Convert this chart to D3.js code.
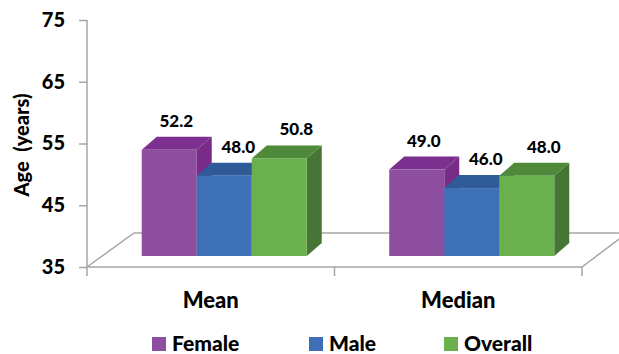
<!DOCTYPE html>
<html lang="en">
<head>
    <meta charset="UTF-8">
    <title>Age by sex</title>
    <script src="https://cdn.jsdelivr.net/npm/d3@7"></script>
    <style>
        body {
            margin: 0;
            background-color: white;
        }
        text {
            font-family: Lato, "Open Sans", sans-serif;
            font-weight: 900;
            fill: #000;
            white-space: pre;
        }
        .grid-line {
            fill: none;
            stroke: #a6a6a6;
            stroke-width: 1.5;
        }
    </style>
</head>
<body>
<script>
    const categories = ["Mean", "Median"];
    const seriesNames = ["Female", "Male", "Overall"];
    const female = [52.2, 49.0];
    const male = [48.0, 46.0];
    const overall = [50.8, 48.0];
    const yTicks = [35, 45, 55, 65, 75];

    const values = [female, male, overall];
    const frontColors = ["#8d4e9f", "#3e70b8", "#6ab14d"];
    const topColors = ["#7b3090", "#2f5c98", "#4e8a3a"];
    const sideColors = ["#782c88", "#2c5590", "#477535"];
    // label nudges to the right, per series (labels sit like in the original)
    const labelShift = [7, 14, 17];

    const width = 619, height = 354;
    const floorDx = 47, floorDy = -34;   // depth of the floor
    const frontDx = 13.5, frontDy = -11; // bar front plane inside the floor
    const barDx = 15, barDy = -13;       // depth of each bar

    const svg = d3.select("body")
        .append("svg")
        .attr("width", width)
        .attr("height", height);

    const y = d3.scaleLinear()
        .domain([35, 75])
        .range([267, 20]);

    const x = d3.scaleBand()
        .domain(categories)
        .range([87, 582]);

    const inner = d3.scaleBand()
        .domain(seriesNames)
        .range([0, 165]);

    // floor
    const x0 = x.range()[0], x1 = x.range()[1], y0 = y(35);
    svg.append("path")
        .attr("class", "grid-line")
        .attr("d", `M${x0},${y0} L${x0 + floorDx},${y0 + floorDy} L${x1 + floorDx - 10},${y0 + floorDy}`
            + ` M${x0},${y0} L${x1},${y0} L${x1 + floorDx - 10},${y0 + floorDy + 6}`);

    // y axis
    const yAxis = svg.append("g")
        .attr("transform", `translate(${x0},0)`)
        .call(d3.axisLeft(y).tickValues(yTicks).tickSize(8).tickPadding(14));
    yAxis.select(".domain").remove();
    yAxis.selectAll(".tick line").attr("stroke", "#a6a6a6").attr("stroke-width", 1.5);
    yAxis.selectAll(".tick text")
        .style("font-family", "Lato, sans-serif")
        .style("font-weight", "900")
        .style("font-size", "20px")
        .attr("fill", "#000");
    svg.append("line")
        .attr("class", "grid-line")
        .attr("x1", x0).attr("x2", x0)
        .attr("y1", y(75)).attr("y2", y0 + 9);

    // category boundary ticks
    svg.selectAll(".xtick")
        .data(categories.slice(1).map(c => x(c)).concat([x1]))
        .enter().append("line")
        .attr("class", "grid-line")
        .attr("x1", d => d).attr("x2", d => d)
        .attr("y1", y0).attr("y2", y0 + 9);

    // bars
    const bars = [];
    categories.forEach((c, ci) => {
        seriesNames.forEach((s, si) => {
            const groupLeft = x(c) + (x.bandwidth() - 165) / 2 + frontDx;
            bars.push({
                cat: c, si: si, v: values[si][ci],
                left: groupLeft + inner(s),
                right: groupLeft + inner(s) + inner.bandwidth(),
                top: y(values[si][ci]) + frontDy,
                bottom: y0 + frontDy
            });
        });
    });

    const bar = svg.selectAll(".bar")
        .data(bars)
        .enter().append("g")
        .attr("class", "bar");

    bar.append("path")
        .attr("fill", d => sideColors[d.si])
        .attr("d", d => `M${d.right},${d.bottom} L${d.right + barDx},${d.bottom + barDy}`
            + ` L${d.right + barDx},${d.top + barDy} L${d.right},${d.top} Z`);
    bar.append("path")
        .attr("fill", d => topColors[d.si])
        .attr("d", d => `M${d.left},${d.top} L${d.left + barDx},${d.top + barDy}`
            + ` L${d.right + barDx},${d.top + barDy} L${d.right},${d.top} Z`);
    bar.append("rect")
        .attr("fill", d => frontColors[d.si])
        .attr("x", d => d.left)
        .attr("y", d => d.top)
        .attr("width", d => d.right - d.left)
        .attr("height", d => d.bottom - d.top);

    bar.append("text")
        .attr("x", d => (d.left + d.right) / 2 + labelShift[d.si])
        .attr("y", d => d.top - 23)
        .attr("text-anchor", "middle")
        .style("font-size", "17px")
        .text(d => d.v.toFixed(1));

    // category labels
    svg.selectAll(".cat")
        .data(categories)
        .enter().append("text")
        .attr("x", d => x(d) + x.bandwidth() / 2)
        .attr("y", 308)
        .attr("text-anchor", "middle")
        .style("font-size", "22px")
        .text(d => d);

    // y title
    svg.append("text")
        .attr("transform", "translate(29,145) rotate(-90)")
        .attr("text-anchor", "middle")
        .style("font-size", "20px")
        .text("Age  (years)");

    // legend
    const legendX = [152, 309, 444];
    const legend = svg.selectAll(".legend")
        .data(seriesNames)
        .enter().append("g")
        .attr("transform", (d, i) => `translate(${legendX[i]},337)`);
    legend.append("rect")
        .attr("width", 14).attr("height", 14)
        .attr("fill", (d, i) => frontColors[i]);
    legend.append("text")
        .attr("x", 20)
        .attr("y", 14)
        .style("font-size", "21px")
        .text(d => d);
</script>
</body>
</html>
